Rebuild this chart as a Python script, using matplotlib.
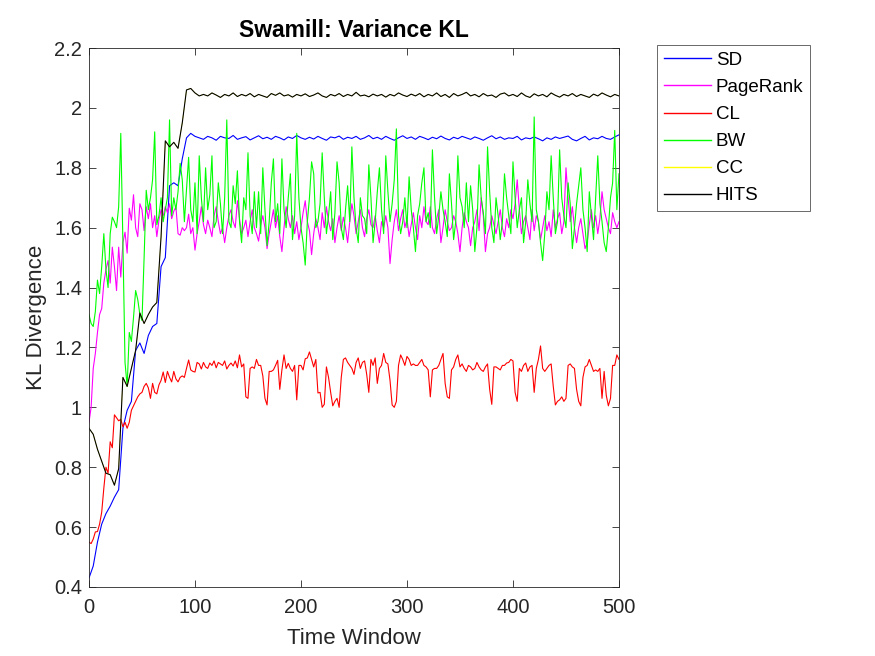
import numpy as np
import matplotlib
matplotlib.use('Agg')
import matplotlib.pyplot as plt
from matplotlib.ticker import FormatStrFormatter

plt.rcParams['font.family'] = ['Liberation Sans', 'DejaVu Sans']

# time windows: smooth series every 4, noisy series every 2
t4 = np.arange(0, 501, 4)
t2 = np.arange(0, 501, 2)

sd = [0.43, 0.47, 0.55, 0.61, 0.645, 0.67, 0.70, 0.725, 0.93, 0.99,
      1.02, 1.19, 1.215, 1.18, 1.24, 1.27, 1.28, 1.47, 1.50, 1.74,
      1.75, 1.74, 1.83, 1.90, 1.915, 1.905, 1.90, 1.895, 1.905, 1.90,
      1.892, 1.905, 1.90, 1.898, 1.908, 1.895, 1.90, 1.904, 1.893, 1.90,
      1.907, 1.897, 1.902, 1.895, 1.905, 1.90, 1.893, 1.903, 1.898, 1.908,
      1.90, 1.895, 1.902, 1.896, 1.905, 1.898, 1.892, 1.903, 1.90, 1.906,
      1.895, 1.902, 1.898, 1.905, 1.895, 1.90, 1.908, 1.897, 1.902, 1.895,
      1.905, 1.898, 1.892, 1.90, 1.907, 1.898, 1.903, 1.895, 1.905, 1.90,
      1.894, 1.902, 1.897, 1.906, 1.898, 1.893, 1.902, 1.897, 1.905, 1.90,
      1.895, 1.903, 1.898, 1.892, 1.90, 1.907, 1.897, 1.903, 1.895, 1.90,
      1.898, 1.905, 1.893, 1.90, 1.897, 1.903, 1.897, 1.89, 1.90, 1.895,
      1.903, 1.898, 1.902, 1.906, 1.895, 1.89, 1.898, 1.905, 1.893, 1.90,
      1.897, 1.905, 1.898, 1.895, 1.903, 1.91]

hits = [0.93, 0.91, 0.86, 0.82, 0.78, 0.775, 0.74, 0.795, 1.10, 1.07,
        1.13, 1.19, 1.315, 1.28, 1.31, 1.335, 1.35, 1.57, 1.89, 1.87,
        1.885, 1.865, 1.95, 2.06, 2.065, 2.05, 2.04, 2.045, 2.04, 2.05,
        2.043, 2.035, 2.045, 2.04, 2.05, 2.038, 2.045, 2.04, 2.048, 2.037,
        2.045, 2.04, 2.035, 2.048, 2.042, 2.05, 2.04, 2.044, 2.036, 2.045,
        2.04, 2.047, 2.038, 2.043, 2.05, 2.04, 2.035, 2.045, 2.04, 2.048,
        2.038, 2.045, 2.04, 2.052, 2.04, 2.043, 2.037, 2.046, 2.04, 2.045,
        2.036, 2.045, 2.04, 2.05, 2.043, 2.038, 2.046, 2.04, 2.048, 2.037,
        2.045, 2.04, 2.05, 2.038, 2.045, 2.035, 2.048, 2.04, 2.045, 2.052,
        2.04, 2.045, 2.037, 2.048, 2.04, 2.043, 2.035, 2.046, 2.05, 2.04,
        2.045, 2.038, 2.05, 2.04, 2.035, 2.047, 2.04, 2.045, 2.037, 2.05,
        2.042, 2.036, 2.045, 2.04, 2.048, 2.038, 2.045, 2.04, 2.035, 2.046,
        2.04, 2.05, 2.043, 2.037, 2.045, 2.04]

# CC lies under HITS in the original
cc = list(hits)

pagerank = [
    0.95, 1.00, 1.13, 1.18, 1.25, 1.31, 1.33, 1.415, 1.46, 1.49,
    1.415, 1.535, 1.47, 1.39, 1.535, 1.435, 1.55, 1.585, 1.515, 1.665,
    1.625, 1.71, 1.60, 1.57, 1.68, 1.66, 1.59, 1.67, 1.63, 1.68,
    1.60, 1.64, 1.57, 1.625, 1.66, 1.64, 1.67, 1.65, 1.68, 1.63,
    1.655, 1.67, 1.58, 1.575, 1.60, 1.59, 1.60, 1.645, 1.58, 1.60,
    1.525, 1.58, 1.62, 1.67, 1.61, 1.58, 1.625, 1.60, 1.57, 1.64,
    1.67, 1.62, 1.58, 1.60, 1.55, 1.60, 1.64, 1.66, 1.62, 1.60,
    1.69, 1.63, 1.58, 1.60, 1.625, 1.57, 1.62, 1.66, 1.60, 1.58,
    1.555, 1.61, 1.64, 1.60, 1.53, 1.58, 1.62, 1.66, 1.60, 1.64,
    1.57, 1.52, 1.60, 1.67, 1.63, 1.60, 1.64, 1.58, 1.62, 1.56,
    1.60, 1.65, 1.69, 1.62, 1.59, 1.51, 1.58, 1.63, 1.60, 1.56,
    1.65, 1.60, 1.67, 1.62, 1.59, 1.63, 1.55, 1.60, 1.64, 1.59,
    1.635, 1.60, 1.55, 1.62, 1.68, 1.64, 1.58, 1.62, 1.66, 1.60,
    1.57, 1.63, 1.66, 1.61, 1.60, 1.64, 1.59, 1.55, 1.62, 1.60,
    1.64, 1.60, 1.48, 1.56, 1.62, 1.66, 1.59, 1.63, 1.66, 1.60,
    1.63, 1.57, 1.61, 1.65, 1.60, 1.56, 1.64, 1.60, 1.67, 1.62,
    1.61, 1.67, 1.60, 1.58, 1.63, 1.66, 1.55, 1.60, 1.66, 1.62,
    1.59, 1.60, 1.64, 1.62, 1.58, 1.52, 1.60, 1.65, 1.62, 1.60,
    1.54, 1.60, 1.62, 1.66, 1.59, 1.70, 1.64, 1.52, 1.58, 1.60,
    1.64, 1.61, 1.58, 1.62, 1.66, 1.60, 1.57, 1.63, 1.60, 1.66,
    1.63, 1.68, 1.76, 1.66, 1.58, 1.62, 1.64, 1.60, 1.56, 1.66,
    1.59, 1.64, 1.62, 1.56, 1.60, 1.64, 1.59, 1.62, 1.57, 1.66,
    1.60, 1.63, 1.65, 1.58, 1.62, 1.80, 1.70, 1.62, 1.67, 1.60,
    1.55, 1.60, 1.63, 1.58, 1.53, 1.55, 1.61, 1.66, 1.60, 1.64,
    1.58, 1.63, 1.72, 1.66, 1.63, 1.60, 1.58, 1.65, 1.62, 1.60,
    1.62]

bw = [
    1.31, 1.28, 1.27, 1.32, 1.425, 1.38, 1.47, 1.58, 1.46, 1.40,
    1.58, 1.635, 1.62, 1.60, 1.67, 1.915, 1.55, 1.15, 1.07, 1.25,
    1.22, 1.30, 1.39, 1.36, 1.31, 1.29, 1.50, 1.725, 1.66, 1.70,
    1.76, 1.92, 1.61, 1.64, 1.70, 1.62, 1.66, 1.70, 1.96, 1.64,
    1.70, 1.66, 1.72, 1.815, 1.76, 1.62, 1.73, 1.835, 1.66, 1.62,
    1.75, 1.58, 1.84, 1.70, 1.62, 1.80, 1.66, 1.71, 1.84, 1.60,
    1.62, 1.75, 1.68, 1.58, 1.70, 1.96, 1.62, 1.60, 1.74, 1.68,
    1.79, 1.62, 1.55, 1.70, 1.66, 1.85, 1.64, 1.58, 1.72, 1.60,
    1.72, 1.58, 1.80, 1.66, 1.54, 1.62, 1.75, 1.83, 1.62, 1.68,
    1.58, 1.83, 1.66, 1.60, 1.70, 1.78, 1.56, 1.64, 1.915, 1.70,
    1.60, 1.55, 1.475, 1.62, 1.70, 1.82, 1.78, 1.60, 1.62, 1.68,
    1.85, 1.70, 1.58, 1.64, 1.72, 1.56, 1.65, 1.82, 1.75, 1.60,
    1.56, 1.66, 1.74, 1.62, 1.87, 1.70, 1.60, 1.55, 1.70, 1.64,
    1.63, 1.58, 1.81, 1.70, 1.55, 1.62, 1.72, 1.80, 1.66, 1.58,
    1.84, 1.72, 1.62, 1.68, 1.76, 1.93, 1.64, 1.58, 1.62, 1.70,
    1.60, 1.77, 1.66, 1.60, 1.52, 1.64, 1.68, 1.75, 1.80, 1.62,
    1.65, 1.60, 1.86, 1.70, 1.58, 1.64, 1.72, 1.66, 1.62, 1.57,
    1.78, 1.68, 1.56, 1.62, 1.84, 1.70, 1.67, 1.60, 1.75, 1.62,
    1.74, 1.66, 1.52, 1.60, 1.81, 1.70, 1.65, 1.58, 1.87, 1.72,
    1.60, 1.55, 1.70, 1.64, 1.56, 1.62, 1.78, 1.70, 1.64, 1.58,
    1.82, 1.70, 1.60, 1.66, 1.70, 1.55, 1.62, 1.76, 1.68, 1.62,
    1.97, 1.66, 1.62, 1.55, 1.49, 1.58, 1.72, 1.66, 1.84, 1.70,
    1.58, 1.62, 1.86, 1.70, 1.64, 1.60, 1.75, 1.68, 1.53, 1.60,
    1.68, 1.74, 1.80, 1.66, 1.60, 1.52, 1.72, 1.64, 1.56, 1.70,
    1.84, 1.68, 1.62, 1.55, 1.52, 1.60, 1.70, 1.75, 1.925, 1.66,
    1.78]

cl = [
    0.55, 0.545, 0.56, 0.584, 0.585, 0.61, 0.65, 0.73, 0.80, 0.78,
    0.885, 0.865, 0.975, 0.965, 0.955, 0.96, 0.935, 0.95, 0.93, 0.95,
    0.99, 1.005, 1.02, 1.035, 1.045, 1.05, 1.07, 1.08, 1.065, 1.03,
    1.08, 1.05, 1.045, 1.075, 1.09, 1.118, 1.083, 1.12, 1.10, 1.085,
    1.12, 1.095, 1.085, 1.10, 1.105, 1.10, 1.13, 1.158, 1.125, 1.12,
    1.118, 1.15, 1.145, 1.128, 1.15, 1.135, 1.13, 1.148, 1.14, 1.155,
    1.132, 1.15, 1.145, 1.14, 1.155, 1.128, 1.14, 1.148, 1.138, 1.155,
    1.132, 1.175, 1.135, 1.145, 1.035, 1.03, 1.13, 1.135, 1.13, 1.16,
    1.14, 1.14, 1.105, 1.03, 1.008, 1.12, 1.12, 1.125, 1.14, 1.157,
    1.06, 1.125, 1.175, 1.13, 1.147, 1.13, 1.12, 1.14, 1.025, 1.14,
    1.14, 1.125, 1.162, 1.165, 1.185, 1.16, 1.135, 1.16, 1.048, 1.05,
    1.00, 1.01, 1.135, 1.10, 1.05, 1.005, 1.02, 1.03, 1.00, 1.10,
    1.16, 1.165, 1.15, 1.14, 1.13, 1.11, 1.15, 1.165, 1.13, 1.15,
    1.155, 1.11, 1.05, 1.16, 1.14, 1.165, 1.08, 1.13, 1.14, 1.18,
    1.15, 1.145, 1.09, 1.008, 1.00, 1.02, 1.14, 1.175, 1.16, 1.14,
    1.17, 1.16, 1.14, 1.145, 1.14, 1.14, 1.15, 1.16, 1.14, 1.135,
    1.125, 1.035, 1.125, 1.13, 1.13, 1.14, 1.16, 1.18, 1.08, 1.035,
    1.03, 1.125, 1.135, 1.16, 1.175, 1.135, 1.145, 1.13, 1.12, 1.14,
    1.135, 1.125, 1.13, 1.15, 1.135, 1.125, 1.12, 1.135, 1.145, 1.06,
    1.01, 1.135, 1.135, 1.13, 1.125, 1.14, 1.14, 1.148, 1.15, 1.16,
    1.155, 1.05, 1.02, 1.13, 1.12, 1.14, 1.148, 1.12, 1.135, 1.14,
    1.05, 1.13, 1.16, 1.205, 1.13, 1.12, 1.13, 1.14, 1.145, 1.07,
    1.008, 1.02, 1.025, 1.035, 1.02, 1.03, 1.14, 1.145, 1.135, 1.13,
    1.06, 1.02, 1.005, 1.10, 1.135, 1.14, 1.16, 1.14, 1.12, 1.125,
    1.12, 1.13, 1.03, 1.12, 1.04, 1.005, 1.03, 1.14, 1.14, 1.175,
    1.16]

labels = ['SD', 'PageRank', 'CL', 'BW', 'CC', 'HITS']
colors = ['#0000ff', '#ff00ff', '#ff0000', '#00ff00', '#ffff00', '#000000']
xs = [t4, t2, t2, t2, t4, t4]
series = [sd, pagerank, cl, bw, cc, hits]
widths = [0.8, 0.8, 0.8, 0.8, 0.4, 0.8]

ink = '#262626'

fig = plt.figure(figsize=(8.75, 6.56), dpi=100)
ax = fig.add_axes([0.1017, 0.1052, 0.6057, 0.8216])

for x, y, c, w, lab in zip(xs, series, colors, widths, labels):
    ax.plot(x, y, color=c, lw=w, label=lab)

ax.set_xlim(0, 500)
ax.set_ylim(0.4, 2.2)
ax.set_xticks(np.arange(0, 501, 100))
ax.set_yticks(np.arange(0.4, 2.21, 0.2))
ax.yaxis.set_major_formatter(FormatStrFormatter('%g'))
ax.tick_params(direction='in', length=5, width=0.6, colors=ink,
               labelsize=14.5, top=True, right=True, pad=5)
ax.tick_params(axis='x', pad=8)
for s in ax.spines.values():
    s.set_color(ink)
    s.set_linewidth(0.6)

ax.set_title('Swamill: Variance KL', fontsize=16.5, fontweight='bold',
             color='black', pad=8)
ax.set_xlabel('Time Window', fontsize=16, color=ink, labelpad=8)
ax.set_ylabel('KL Divergence', fontsize=16, color=ink, labelpad=5)

leg = fig.legend(loc='upper left', bbox_to_anchor=(0.751, 0.931),
                 fontsize=13.5, frameon=True, fancybox=False,
                 handlelength=2.5, handletextpad=0.27, labelspacing=0.53,
                 borderpad=0.35, borderaxespad=0)
leg.get_frame().set_edgecolor(ink)
leg.get_frame().set_linewidth(0.6)
for line in leg.get_lines():
    line.set_linewidth(1.0)
for txt in leg.get_texts():
    txt.set_color('black')

fig.savefig('out.png', dpi=100)
